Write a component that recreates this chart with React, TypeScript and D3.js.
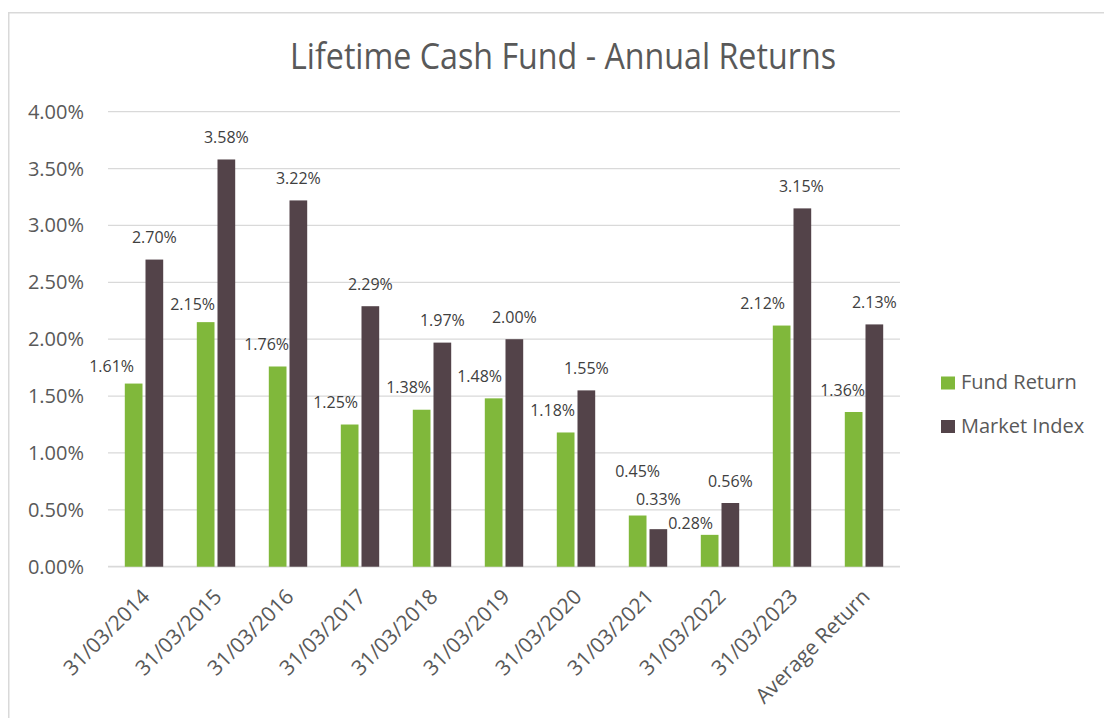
import React from "react";
import * as d3 from "d3";

const categories = [
  "31/03/2014", "31/03/2015", "31/03/2016", "31/03/2017", "31/03/2018",
  "31/03/2019", "31/03/2020", "31/03/2021", "31/03/2022", "31/03/2023", "Average Return",
];
const fundReturn = [1.61, 2.15, 1.76, 1.25, 1.38, 1.48, 1.18, 0.45, 0.28, 2.12, 1.36];
const marketIndex = [2.7, 3.58, 3.22, 2.29, 1.97, 2.0, 1.55, 0.33, 0.56, 3.15, 2.13];
const seriesNames = ["Fund Return", "Market Index"];
const yTicks = [0, 0.5, 1, 1.5, 2, 2.5, 3, 3.5, 4];

// label nudges (layout only), px
const fundLabelDx = [-22, -13, -11, -14, -13, -14, -13, 0, -19, -19, -11];
const fundLabelDy = [5, 4, 0, 0, 0, 0, 0, -22, 11, 0, 0];
const marketLabelDx = [0, 0, 0, 0, 0, 0, 0, 0, 0, -1, 0];
const marketLabelDy = [0, 0, 0, 0, 0, 0, 0, -8, 0, 0, 0];

const colors = ["#80b83b", "#534349"];
const FONT = "'Open Sans', 'DejaVu Sans', sans-serif";
const TEXT = "#595959";

export default function App() {
  const W = 1104, H = 718;
  const plotL = 108, plotR = 900, plotT = 111.7, plotB = 566.7;
  const x0 = d3.scaleBand<string>().domain(categories).range([plotL, plotR]).padding(0);
  const inner = 38.4;
  const x1 = d3.scaleBand<string>().domain(seriesNames).range([0, inner]).paddingInner(0.145);
  const y = d3.scaleLinear().domain([0, 4]).range([plotB, plotT]);
  const fmt = (v: number) => v.toFixed(2) + "%";
  const series = [fundReturn, marketIndex];
  const dxs = [fundLabelDx, marketLabelDx];
  const dys = [fundLabelDy, marketLabelDy];

  return (
    <svg width={W} height={H} style={{ position: "absolute", left: 0, top: 0, background: "#fff" }} fontFamily={FONT}>
      <rect x={8.75} y={12.75} width={W} height={H} fill="#fff" stroke="#d9d9d9" strokeWidth={1.5} />
      <text x={563} y={69} textAnchor="middle" fontSize={36} fill={TEXT} textLength={546} lengthAdjust="spacingAndGlyphs">
        Lifetime Cash Fund - Annual Returns
      </text>
      {yTicks.map((t) => (
        <g key={t}>
          <line x1={plotL} x2={plotR} y1={y(t)} y2={y(t)} stroke="#d9d9d9" strokeWidth={t === 0 ? 1.75 : 1.25} />
          <text x={84} y={y(t)} dy="0.35em" textAnchor="end" fontSize={20} fill={TEXT}>{fmt(t)}</text>
        </g>
      ))}
      {categories.map((c, i) => {
        const gx = x0(c)! + (x0.bandwidth() - inner) / 2;
        return (
          <g key={c}>
            {series.map((s, k) => {
              const bx = gx + x1(seriesNames[k])!;
              const bw = x1.bandwidth();
              return (
                <g key={k}>
                  <rect x={bx} y={y(s[i])} width={bw} height={plotB - y(s[i])} fill={colors[k]} />
                  <text x={bx + bw / 2 + dxs[k][i]} y={y(s[i]) - 22 + dys[k][i]} dy="0.35em" textAnchor="middle" fontSize={16} fill="#404040">
                    {fmt(s[i])}
                  </text>
                </g>
              );
            })}
            <text
              transform={`translate(${x0(c)! + x0.bandwidth() / 2 + 7},${598}) rotate(-45)`}
              textAnchor="end" fontSize={21} fill={TEXT}
            >
              {c}
            </text>
          </g>
        );
      })}
      {seriesNames.map((n, k) => (
        <g key={n} transform={`translate(941,${376.5 + k * 43.5})`}>
          <rect x={0} y={0} width={14} height={13} fill={colors[k]} />
          <text x={20} y={12.5} fontSize={20} fill={TEXT}>{n}</text>
        </g>
      ))}
    </svg>
  );
}
